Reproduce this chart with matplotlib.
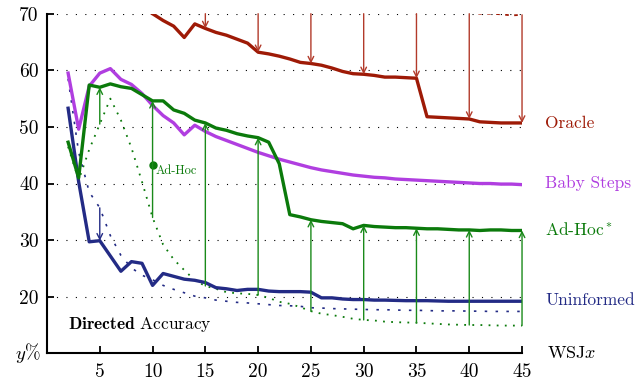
import matplotlib.pyplot as plt

plt.rcParams['font.family'] = 'serif'
plt.rcParams['font.serif'] = ['cmr10']
plt.rcParams['mathtext.fontset'] = 'cm'
plt.rcParams['axes.formatter.use_mathtext'] = True

# WSJx, x = 2..45
wsj = list(range(2, 46))

uninformed = [53.3, 40.3, 29.7, 29.9, 27.2, 24.5, 26.2, 25.9, 22.0, 24.1,
              23.6, 23.1, 22.9, 22.5, 21.6, 21.4, 21.1, 21.3, 21.3, 21.0,
              20.9, 20.9, 20.9, 20.8, 19.8, 19.8, 19.6, 19.5, 19.5, 19.4,
              19.4, 19.35, 19.3, 19.3, 19.3, 19.25, 19.2, 19.2, 19.2, 19.2,
              19.2, 19.2, 19.2, 19.2]
uninformed_dash = [58.5, 45.5, 38.5, 35.7, 30.8, 27.3, 25.1, 23.8, 23.0, 22.0,
                   21.3, 20.7, 20.1, 19.8, 19.4, 19.2, 19.0, 18.9, 18.75, 18.6,
                   18.45, 18.4, 18.3, 18.05, 18.0, 17.9, 17.85, 17.8, 17.75, 17.7,
                   17.7, 17.65, 17.6, 17.6, 17.55, 17.5, 17.5, 17.5, 17.45, 17.45,
                   17.4, 17.4, 17.4, 17.4]
baby_steps = [59.5, 49.6, 57.2, 59.5, 60.3, 58.4, 57.5, 55.9, 53.8, 52.0,
              50.7, 48.6, 50.3, 49.2, 48.3, 47.6, 46.9, 46.2, 45.5, 44.9,
              44.3, 43.8, 43.3, 42.8, 42.4, 42.1, 41.8, 41.5, 41.3, 41.1,
              41.0, 40.8, 40.7, 40.6, 40.5, 40.4, 40.3, 40.2, 40.1, 40.0,
              40.0, 39.9, 39.9, 39.8]
adhoc_star = [47.3, 41.0, 57.4, 57.0, 57.6, 57.1, 56.8, 55.7, 54.6, 54.6,
              53.0, 52.4, 51.2, 50.7, 49.8, 49.4, 48.8, 48.4, 48.1, 47.3,
              43.5, 34.5, 34.1, 33.6, 33.3, 33.1, 32.9, 32.0, 32.6, 32.4,
              32.3, 32.2, 32.2, 32.1, 32.0, 32.0, 31.9, 31.8, 31.8, 31.7,
              31.8, 31.8, 31.7, 31.7]
adhoc_dot = [46.5, 40.6, 46.0, 50.5, 55.0, 51.2, 46.3, 40.3, 34.0, 29.2,
             26.6, 24.7, 22.9, 21.9, 21.4, 20.8, 20.6, 20.5, 20.3, 19.8,
             19.1, 18.75, 18.15, 17.45, 17.0, 16.75, 16.45, 16.1, 15.9, 15.8,
             15.6, 15.5, 15.45, 15.4, 15.3, 15.2, 15.1, 15.05, 15.0, 15.0,
             14.95, 14.9, 14.9, 14.9]

# Oracle, x = 10..45
oracle_x = list(range(10, 46))
oracle = [70.0, 68.8, 67.8, 65.8, 68.2, 67.4, 66.7, 66.2, 65.5, 64.8,
          63.2, 62.9, 62.5, 62.0, 61.4, 61.2, 60.9, 60.4, 59.8, 59.4,
          59.3, 59.1, 58.8, 58.8, 58.7, 58.6, 51.8, 51.7, 51.6, 51.5,
          51.4, 50.9, 50.8, 50.7, 50.7, 50.7]
oracle_upper_x = [40, 41, 42, 43, 44, 45]
oracle_upper = [70.3, 70.0, 70.0, 69.9, 69.7, 69.8]

green_arrow_x = [5, 10, 15, 20, 25, 30, 35, 40, 45]
red_arrow_x = [15, 20, 25, 30, 35, 40, 45]
red_arrow_from = [70, 70, 70, 70, 70, 70.0, 69.8]
adhoc_point = (10, 43.2)

c_oracle = '#9e1a06'
c_baby = '#b03ee0'
c_adhoc = '#0b7a0b'
c_unin = '#232b85'

fig = plt.figure(figsize=(6.36, 3.83), dpi=100)
ax = fig.add_axes([0.0739, 0.0775, 0.7469, 0.8867])

ax.plot(wsj, adhoc_dot, color=c_adhoc, lw=1.3, linestyle=(0, (1, 3.5)))
ax.plot(wsj, uninformed_dash, color=c_unin, lw=1.2, linestyle=(0, (1.5, 5)))
ax.plot(oracle_upper_x, oracle_upper, color=c_oracle, lw=1.3, linestyle=(0, (2, 3)))

def idx(x):
    return wsj.index(x)

for x in green_arrow_x:
    ax.annotate('', xy=(x, adhoc_star[idx(x)]), xytext=(x, adhoc_dot[idx(x)]),
                arrowprops=dict(arrowstyle='->', color='#1a8a1a', lw=1.0,
                                shrinkA=0, shrinkB=0, mutation_scale=10))
for x, y0 in zip(red_arrow_x, red_arrow_from):
    ax.annotate('', xy=(x, oracle[oracle_x.index(x)]), xytext=(x, y0),
                arrowprops=dict(arrowstyle='->', color='#b23a2a', lw=1.0,
                                shrinkA=0, shrinkB=0, mutation_scale=10))
ax.annotate('', xy=(5, uninformed[idx(5)]), xytext=(5, uninformed_dash[idx(5)]),
            arrowprops=dict(arrowstyle='->', color=c_unin, lw=1.0,
                            shrinkA=0, shrinkB=0, mutation_scale=10))

ax.plot(wsj, uninformed, color=c_unin, lw=2.4)
ax.plot(wsj, baby_steps, color=c_baby, lw=2.4)
ax.plot(wsj, adhoc_star, color=c_adhoc, lw=2.4)
ax.plot(oracle_x, oracle, color=c_oracle, lw=2.4)

ax.plot(*adhoc_point, 'o', color=c_adhoc, ms=5)
ax.text(adhoc_point[0] + 0.25, adhoc_point[1] - 1.0, 'Ad-Hoc', color=c_adhoc,
        fontsize=9, va='center')

ax.set_xlim(0, 45)
ax.set_ylim(10, 70)
ax.set_xticks([5, 10, 15, 20, 25, 30, 35, 40, 45])
ax.set_yticks([20, 30, 40, 50, 60, 70])
ax.set_yticklabels(['20', '30', '40', '50', '60', '70'])
ax.set_xticklabels(['5', '10', '15', '20', '25', '30', '35', '40', '45'])
ax.tick_params(direction='in', length=5, width=1.3, labelsize=14, pad=7)
ax.tick_params(axis='y', pad=6)
ax.grid(axis='y', color='black', lw=0.8, linestyle=(0, (1, 7.5)))
ax.set_axisbelow(True)

for s in ['top', 'right']:
    ax.spines[s].set_visible(False)
ax.spines['left'].set_linewidth(1.5)
ax.spines['bottom'].set_linewidth(1.5)

lab = dict(fontsize=12.5, va='center', ha='left', clip_on=False)
ax.text(47.2, 50.7, 'Oracle', color=c_oracle, **lab)
ax.text(47.2, 40.0, 'Baby Steps', color=c_baby, **lab)
ax.text(47.2, 31.9, r'Ad-Hoc$^*$', color=c_adhoc, **lab)
ax.text(47.2, 19.4, 'Uninformed', color=c_unin, **lab)
ax.text(47.4, 10.0, r'WSJ$x$', color='black', fontsize=13, va='center',
        ha='left', clip_on=False)
ax.text(-0.6, 10.0, r'$y$%', color='black', fontsize=13.5, va='center',
        ha='right', clip_on=False)
ax.text(2.0, 15.1, r'$\mathbf{Directed}$ Accuracy', fontsize=12.5, va='center')

fig.savefig('out.png', dpi=100)
